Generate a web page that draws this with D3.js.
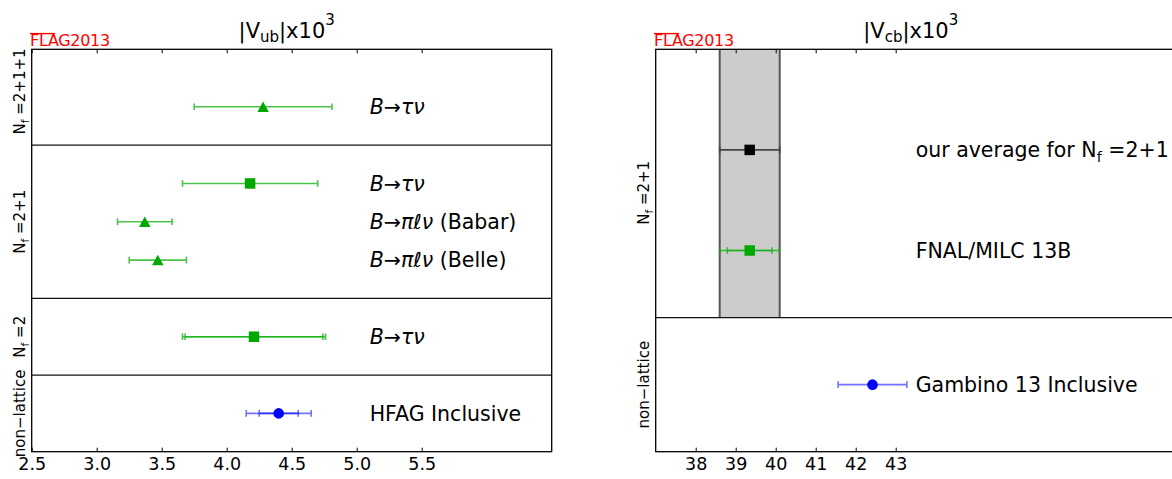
<!DOCTYPE html>
<html><head><meta charset="utf-8">
<script src="https://cdn.jsdelivr.net/npm/d3@7/dist/d3.min.js"></script>
<style>
body{margin:0;background:#fff;}
svg{display:block;font-family:"DejaVu Sans",sans-serif;}
</style>
</head><body>
<svg id="c" width="1172" height="479"></svg>
<script>
// ---------- |Vub| panel data ----------
const vubLabels   = ["HFAG Inclusive", "B→τν", "B→πℓν (Belle)", "B→πℓν (Babar)", "B→τν", "B→τν"];
const vubRows     = [1, 3, 5, 6, 7, 9];
const vubValues   = [4.40, 4.21, 3.47, 3.37, 4.18, 4.28];
const vubErrTot   = [0.25, 0.55, 0.22, 0.21, 0.52, 0.53];
const vubErrStat  = [0.15, 0.53, null, null, null, null];
const vubMarkers  = ["circle", "square", "triangle", "triangle", "square", "triangle"];
const vubKinds    = ["nonlattice", "lattice", "lattice", "lattice", "lattice", "lattice"];
const vubGroups   = ["non−lattice", "N_f =2", "N_f =2+1", "N_f =2+1+1"];
const vubGroupPos = [1, 3, 6, 9.4];
const vubDividers = [2, 4, 8];
const vubTicks    = [2.5, 3.0, 3.5, 4.0, 4.5, 5.0, 5.5];
const vubDomain   = [2.5, 6.5];
const vubRowDomain = [0, 10.5];
const vubLabelX   = 5.1;

// ---------- |Vcb| panel data ----------
const vcbLabels   = ["Gambino 13 Inclusive", "FNAL/MILC 13B", "our average for N_f =2+1"];
const vcbRows     = [1, 3, 4.5];
const vcbValues   = [42.42, 39.35, 39.35];
const vcbErrTot   = [0.86, 0.74, 0.75];
const vcbErrStat  = [null, 0.56, null];
const vcbMarkers  = ["circle", "square", "square"];
const vcbKinds    = ["nonlattice", "lattice", "average"];
const vcbGroups   = ["non−lattice", "N_f =2+1"];
const vcbGroupPos = [1, 3.86];
const vcbDividers = [2];
const vcbTicks    = [38, 39, 40, 41, 42, 43];
const vcbDomain   = [37, 50];
const vcbRowDomain = [0, 6];
const vcbBand     = [38.60, 40.10];
const vcbBandRows = [2, 6];
const vcbLabelX   = 43.5;

// ---------- styles ----------
const kindStyle = {
  lattice:    {fill: "#00a800", line: "#10b010", alpha: 0.75},
  nonlattice: {fill: "#0000ff", line: "#0000ff", alpha: 0.55},
  average:    {fill: "#000000", line: "#444444", alpha: 1}
};

const svg = d3.select("#c");
const yTop = 49.3, yBottom = 451.7;

function richText(sel, str, size, italicMath) {
  const parts = str.split("N_f");
  parts.forEach((p, i) => {
    if (i > 0) {
      sel.append("tspan").text("N");
      sel.append("tspan").attr("font-size", size * 0.7).attr("dy", size * 0.22).text("f");
      sel.append("tspan").attr("dy", -size * 0.22).text(p);
    } else if (p.length) {
      if (italicMath && p.startsWith("B→")) {
        const m = p.match(/^(B)(→)(\S+)(.*)$/);
        sel.append("tspan").attr("font-style", "italic").text(m[1]);
        sel.append("tspan").text(m[2]);
        sel.append("tspan").attr("font-style", "italic").text(m[3]);
        if (m[4]) sel.append("tspan").text(m[4]);
      } else {
        sel.append("tspan").text(p);
      }
    }
  });
}

function markerPath(type, s) {
  if (type === "square") return `M${-s/2},${-s/2}h${s}v${s}h${-s}Z`;
  if (type === "triangle") return `M0,${-s*0.48}L${s*0.52},${s*0.48}L${-s*0.52},${s*0.48}Z`;
  const r = s / 2;
  return `M${-r},0A${r},${r} 0 1,0 ${r},0A${r},${r} 0 1,0 ${-r},0Z`;
}

function panel(opt) {
  const x = d3.scaleLinear().domain(opt.domain).range([opt.x0, opt.x0 + 520]);
  const y = d3.scaleLinear().domain(opt.rowDomain).range([yBottom, yTop]);
  const g = svg.append("g");

  if (opt.band) {
    g.append("rect")
      .attr("x", x(opt.band[0])).attr("width", x(opt.band[1]) - x(opt.band[0]))
      .attr("y", y(opt.bandRows[1])).attr("height", y(opt.bandRows[0]) - y(opt.bandRows[1]))
      .attr("fill", "#cccccc");
    opt.band.forEach(v => g.append("line")
      .attr("x1", x(v)).attr("x2", x(v))
      .attr("y1", y(opt.bandRows[1])).attr("y2", y(opt.bandRows[0]))
      .attr("stroke", "#555").attr("stroke-width", 2));
  }

  opt.dividers.forEach(d => g.append("line")
    .attr("x1", x(opt.domain[0])).attr("x2", x(opt.domain[1]))
    .attr("y1", y(d)).attr("y2", y(d))
    .attr("stroke", "#111").attr("stroke-width", 1.3));

  g.append("rect").attr("x", x(opt.domain[0])).attr("y", yTop)
    .attr("width", x(opt.domain[1]) - x(opt.domain[0])).attr("height", yBottom - yTop)
    .attr("fill", "none").attr("stroke", "#000").attr("stroke-width", 1.3);

  const ax = g.append("g").attr("transform", `translate(0,${yBottom})`)
    .call(d3.axisBottom(x).tickValues(opt.ticks).tickSize(-4).tickPadding(6).tickFormat(opt.fmt));
  ax.select(".domain").remove();
  ax.selectAll("text").attr("font-size", 17.5).attr("font-family", "DejaVu Sans").attr("fill", "#000");
  ax.selectAll("line").attr("stroke", "#000").attr("stroke-width", 1);
  const at = g.append("g").attr("transform", `translate(0,${yTop})`)
    .call(d3.axisTop(x).tickValues(opt.ticks).tickSize(-4).tickFormat(""));
  at.select(".domain").remove();
  at.selectAll("line").attr("stroke", "#000").attr("stroke-width", 1);

  opt.values.forEach((v, i) => {
    const st = kindStyle[opt.kinds[i]];
    const yy = y(opt.rows[i]);
    const bars = [opt.errTot[i]];
    if (opt.errStat[i] != null) bars.push(opt.errStat[i]);
    bars.forEach(e => {
      const eg = g.append("g").attr("stroke", st.line).attr("stroke-width", 1.6).attr("opacity", st.alpha);
      eg.append("line").attr("x1", x(v - e)).attr("x2", x(v + e)).attr("y1", yy).attr("y2", yy);
      [v - e, v + e].forEach(c => eg.append("line").attr("x1", x(c)).attr("x2", x(c))
        .attr("y1", yy - 3.3).attr("y2", yy + 3.3));
    });
    g.append("path").attr("d", markerPath(opt.markers[i], opt.markers[i] === "triangle" ? 11 : (opt.markers[i] === "circle" ? 10.6 : 10.5)))
      .attr("transform", `translate(${x(v)},${yy})`).attr("fill", st.fill);
    const t = g.append("text").attr("x", x(opt.labelX)).attr("y", yy).attr("dy", "0.36em")
      .attr("font-size", 20.5).attr("fill", "#000");
    richText(t, opt.labels[i], 20.5, true);
  });

  opt.groups.forEach((name, i) => {
    const t = g.append("text")
      .attr("transform", `translate(${opt.x0 - 6.5},${y(opt.groupPos[i])}) rotate(-90)`)
      .attr("text-anchor", "middle").attr("font-size", 15).attr("fill", "#000");
    richText(t, name, 15, false);
  });

  const cx = (x(opt.domain[0]) + x(opt.domain[1])) / 2 - 5;
  const tt = g.append("text").attr("x", cx).attr("y", 38.3).attr("text-anchor", "middle")
    .attr("font-size", 21).attr("fill", "#000");
  tt.append("tspan").text("|V");
  tt.append("tspan").attr("font-size", 15).attr("dy", 4).text(opt.sub);
  tt.append("tspan").attr("dy", -4).text("|x10");
  tt.append("tspan").attr("font-size", 15).attr("dy", -13).text("3");

  const lx = x(opt.domain[0]) - 1.7;
  g.append("text").attr("x", lx).attr("y", 45.7).attr("font-size", 16)
    .attr("fill", "#ff0000").attr("letter-spacing", -0.3).text("FLAG2013");
  g.append("line").attr("x1", lx).attr("x2", lx + 25).attr("y1", 33.6).attr("y2", 33.6)
    .attr("stroke", "#ff0000").attr("stroke-width", 1.4);
}

panel({x0: 31.7, domain: vubDomain, rowDomain: vubRowDomain, rows: vubRows, values: vubValues,
  errTot: vubErrTot, errStat: vubErrStat, markers: vubMarkers, kinds: vubKinds, labels: vubLabels,
  groups: vubGroups, groupPos: vubGroupPos, dividers: vubDividers, ticks: vubTicks,
  fmt: d3.format(".1f"), labelX: vubLabelX, sub: "ub"});

panel({x0: 655.7, domain: vcbDomain, rowDomain: vcbRowDomain, rows: vcbRows, values: vcbValues,
  errTot: vcbErrTot, errStat: vcbErrStat, markers: vcbMarkers, kinds: vcbKinds, labels: vcbLabels,
  groups: vcbGroups, groupPos: vcbGroupPos, dividers: vcbDividers, ticks: vcbTicks,
  fmt: d3.format("d"), labelX: vcbLabelX, sub: "cb", band: vcbBand, bandRows: vcbBandRows});
</script>
</body></html>
